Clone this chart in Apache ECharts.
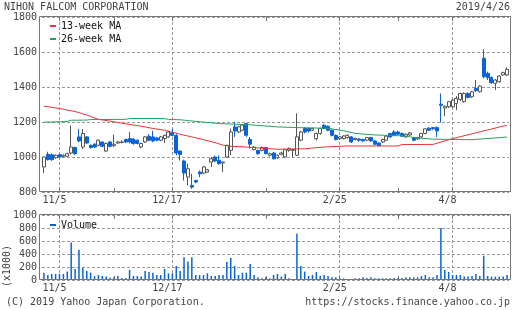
<!DOCTYPE html>
<html>
<head>
<meta charset="utf-8">
<script src="https://cdn.jsdelivr.net/npm/echarts@6/dist/echarts.min.js"></script>
<style>
  html, body { margin: 0; padding: 0; background: #fff; }
  #main { width: 512px; height: 310px; }
</style>
</head>
<body>
<div id="main"></div>
<script>
// trading days, 2018/10/30 - 2019/4/26
const dates = [
  "10/30", "10/31",
  "11/1", "11/2", "11/5", "11/6", "11/7", "11/8", "11/9", "11/12", "11/13", "11/14", "11/15", "11/16",
  "11/19", "11/20", "11/21", "11/22", "11/26", "11/27", "11/28", "11/29", "11/30",
  "12/3", "12/4", "12/5", "12/6", "12/7", "12/10", "12/11", "12/12", "12/13", "12/14", "12/17", "12/18",
  "12/19", "12/20", "12/21", "12/25", "12/26", "12/27", "12/28",
  "1/4", "1/7", "1/8", "1/9", "1/10", "1/11", "1/15", "1/16", "1/17", "1/18", "1/21", "1/22", "1/23",
  "1/24", "1/25", "1/28", "1/29", "1/30", "1/31",
  "2/1", "2/4", "2/5", "2/6", "2/7", "2/8", "2/12", "2/13", "2/14", "2/15", "2/18", "2/19", "2/20",
  "2/21", "2/22", "2/25", "2/26", "2/27", "2/28",
  "3/1", "3/4", "3/5", "3/6", "3/7", "3/8", "3/11", "3/12", "3/13", "3/14", "3/15", "3/18", "3/19",
  "3/20", "3/22", "3/25", "3/26", "3/27", "3/28", "3/29",
  "4/1", "4/2", "4/3", "4/4", "4/5", "4/8", "4/9", "4/10", "4/11", "4/12", "4/15", "4/16", "4/17",
  "4/18", "4/19", "4/22", "4/23", "4/24", "4/25", "4/26"
];
const labelDates = ["11/5", "12/17", "2/25", "4/8"];
const tickDates = ["11/5", "11/26", "12/17", "1/28", "2/25", "3/18", "4/8"];

const open = [
  943, 1015, 1013, 996, 1013, 1004, 1004, 1023, 1054, 1115,
  1057, 1115, 1067, 1073, 1067, 1086, 1034, 1086, 1065, 1080,
  1083, 1100, 1105, 1103, 1096, 1057, 1086, 1119, 1115, 1109,
  1096, 1105, 1115, 1138, 1124, 1034, 977, 885, 837, 866,
  914, 908, 914, 971, 1000, 981, 966, 1000, 1038, 1172,
  1143, 1153, 1191, 1100, 1042, 1038, 1038, 1054, 1010, 1023,
  996, 1015, 1000, 1038, 1038, 1010, 1096, 1163, 1163, 1153,
  1105, 1134, 1182, 1176, 1153, 1124, 1105, 1105, 1111, 1115,
  1100, 1103, 1100, 1096, 1111, 1092, 1080, 1086, 1096, 1134,
  1143, 1143, 1134, 1115, 1126, 1111, 1103, 1115, 1134, 1165,
  1168, 1168, 1302, 1280, 1287, 1287, 1306, 1329, 1316, 1363,
  1344, 1392, 1373, 1564, 1478, 1455, 1421, 1430, 1469, 1469
];
const close = [
  1000, 985, 985, 1010, 1000, 1010, 1019, 1057, 1019, 1092,
  1134, 1080, 1054, 1057, 1096, 1061, 1077, 1061, 1073, 1086,
  1086, 1086, 1086, 1077, 1077, 1077, 1115, 1096, 1092, 1096,
  1115, 1124, 1143, 1124, 1023, 1015, 908, 933, 828, 857,
  904, 943, 927, 990, 977, 962, 971, 1067, 1143, 1149,
  1172, 1182, 1124, 1073, 1057, 1019, 1054, 1019, 1019, 990,
  1010, 1023, 1042, 1048, 1042, 1115, 1143, 1143, 1149, 1163,
  1134, 1163, 1163, 1153, 1124, 1100, 1115, 1120, 1124, 1086,
  1107, 1096, 1092, 1111, 1092, 1073, 1065, 1100, 1119, 1115,
  1124, 1130, 1119, 1130, 1138, 1096, 1111, 1134, 1161, 1153,
  1161, 1149, 1295, 1290, 1316, 1325, 1335, 1363, 1363, 1340,
  1373, 1379, 1405, 1459, 1455, 1425, 1440, 1463, 1482, 1501
];
const low = [
  908, 980, 978, 990, 995, 998, 1000, 1015, 1012, 1085,
  1045, 1075, 1048, 1052, 1062, 1056, 1030, 1055, 1058, 1075,
  1078, 1080, 1077, 1070, 1072, 1050, 1080, 1090, 1085, 1090,
  1090, 1080, 1110, 1118, 1010, 981, 866, 837, 818, 850,
  885, 905, 910, 943, 970, 955, 914, 996, 1010, 1115,
  1138, 1148, 1115, 1048, 1038, 1013, 1032, 1015, 1004, 985,
  990, 1010, 996, 1030, 1000, 1005, 1090, 1135, 1140, 1148,
  1095, 1128, 1158, 1148, 1118, 1095, 1100, 1100, 1105, 1080,
  1095, 1088, 1088, 1090, 1086, 1068, 1060, 1080, 1092, 1110,
  1118, 1125, 1115, 1110, 1120, 1090, 1098, 1110, 1130, 1148,
  1155, 1115, 1197, 1233, 1280, 1282, 1268, 1320, 1310, 1335,
  1338, 1372, 1368, 1450, 1440, 1418, 1383, 1425, 1465, 1463
];
const high = [
  1003, 1030, 1020, 1015, 1018, 1015, 1025, 1180, 1060, 1160,
  1160, 1120, 1072, 1078, 1100, 1090, 1083, 1092, 1128, 1090,
  1095, 1105, 1143, 1108, 1100, 1082, 1120, 1130, 1150, 1115,
  1120, 1128, 1150, 1160, 1130, 1040, 985, 962, 904, 870,
  923, 948, 932, 1000, 1008, 1010, 975, 1070, 1163, 1201,
  1178, 1188, 1195, 1115, 1062, 1042, 1060, 1058, 1025, 1028,
  1015, 1030, 1048, 1055, 1048, 1250, 1150, 1170, 1168, 1168,
  1140, 1168, 1186, 1180, 1158, 1128, 1120, 1125, 1130, 1120,
  1110, 1108, 1105, 1115, 1115, 1096, 1084, 1104, 1124, 1138,
  1153, 1150, 1140, 1135, 1142, 1115, 1115, 1138, 1165, 1170,
  1172, 1175, 1363, 1295, 1320, 1330, 1348, 1368, 1370, 1370,
  1378, 1440, 1410, 1616, 1488, 1460, 1445, 1468, 1488, 1512
];
// volume, x1000 shares
const volume = [
  113, 77, 93, 93, 93, 93, 129, 577, 170, 464,
  190, 139, 113, 62, 77, 62, 52, 36, 41, 62,
  31, 31, 155, 62, 62, 52, 139, 124, 113, 77,
  77, 170, 103, 103, 216, 139, 350, 283, 350, 77,
  77, 77, 103, 62, 62, 77, 77, 278, 340, 216,
  77, 113, 113, 247, 77, 41, 26, 41, 26, 78,
  93, 52, 93, 26, 16, 713, 217, 129, 62, 78,
  124, 62, 78, 62, 41, 41, 26, 26, 16, 16,
  26, 26, 41, 31, 41, 26, 26, 26, 26, 26,
  31, 31, 31, 41, 41, 41, 41, 62, 78, 41,
  41, 78, 800, 155, 124, 78, 78, 78, 52, 52,
  62, 93, 62, 372, 62, 52, 52, 52, 52, 78
];
// moving averages: [day index, value]
const ma13 = [
  [0, 1291], [4, 1277], [8, 1260], [11, 1240], [14, 1215], [17, 1205], [20, 1193], [25, 1176],
  [28, 1163], [31, 1153], [35, 1130], [38, 1115], [41, 1099], [44, 1082], [46, 1068], [48, 1061],
  [52, 1057], [60, 1044], [67, 1047], [72, 1057], [78, 1063], [91, 1063], [92, 1071], [100, 1072],
  [105, 1105], [119, 1182]
];
const ma26 = [
  [0, 1199], [6, 1203], [7, 1210], [11, 1211], [12, 1214], [21, 1215], [22, 1220], [31, 1220],
  [32, 1214], [35, 1213], [37, 1208], [45, 1191], [53, 1184], [60, 1172], [65, 1168], [73, 1164],
  [77, 1150], [80, 1135], [85, 1126], [93, 1120], [95, 1111], [100, 1102], [110, 1099], [119, 1114]
];

const FONT = "DejaVu Sans Mono";
const BLUE = "#0a64d8";
const AXIS = "#777";
const TEXT = "#444";

const ohlc = dates.map((d, i) => [open[i], close[i], low[i], high[i]]);
const isLabel = (i, v) => labelDates.includes(v);
const isTick = (i, v) => tickDates.includes(v);

const main = { left: 42, top: 17, width: 467, height: 175 };
const vol = { left: 42, top: 215, width: 467, height: 65 };

const dash = { color: "#999", type: [3, 2], width: 1 };
const txt = { fontSize: 10, fontFamily: FONT, color: TEXT };

function xAxisFor(gridIndex, position) {
  const bottom = position === "bottom";
  return {
    type: "category",
    gridIndex: gridIndex,
    position: position,
    data: dates,
    boundaryGap: true,
    axisLine: { show: false },
    axisTick: {
      show: true, inside: true, length: 4, alignWithLabel: true,
      interval: isTick, lineStyle: { color: AXIS }
    },
    axisLabel: {
      show: bottom, interval: isLabel, margin: 3, padding: [0, 10, 0, 0], ...txt
    },
    splitLine: {
      show: bottom, interval: isLabel, alignWithLabel: true, lineStyle: dash
    }
  };
}

function frame(g) {
  return {
    type: "rect", z: 100, silent: true,
    shape: { x: g.left - 2.5, y: g.top - 0.5, width: g.width + 4, height: g.height },
    style: { fill: "none", stroke: AXIS, lineWidth: 1 }
  };
}

var myChart = echarts.init(document.getElementById("main"));
var option = {
  animation: false,
  backgroundColor: "#fff",
  title: [
    { text: "NIHON FALCOM CORPORATION", left: 4, top: 2, padding: 0, textStyle: { ...txt, fontWeight: "normal" } },
    { text: "2019/4/26", right: 2, top: 2, padding: 0, textStyle: { ...txt, fontWeight: "normal" } },
    { text: "(C) 2019 Yahoo Japan Corporation.", left: 6, top: 297, padding: 0, textStyle: { ...txt, fontWeight: "normal" } },
    { text: "https://stocks.finance.yahoo.co.jp", right: 2, top: 297, padding: 0, textStyle: { ...txt, fontWeight: "normal" } }
  ],
  legend: [
    {
      data: ["13-week MA", "26-week MA"], orient: "vertical", left: 50, top: 20, padding: 0,
      itemGap: 1, itemWidth: 6, itemHeight: 2, icon: "rect", selectedMode: false,
      textStyle: { fontSize: 10, fontFamily: FONT, color: "#111", lineHeight: 12 }
    },
    {
      data: ["Volume"], left: 50, top: 219, padding: 0,
      itemWidth: 6, itemHeight: 2, icon: "rect", selectedMode: false,
      textStyle: { fontSize: 10, fontFamily: FONT, color: "#111", lineHeight: 12 }
    }
  ],
  grid: [main, vol],
  xAxis: [
    xAxisFor(0, "bottom"),
    xAxisFor(0, "top"),
    xAxisFor(1, "bottom"),
    xAxisFor(1, "top")
  ],
  yAxis: [
    {
      type: "value", gridIndex: 0, min: 800, max: 1800, interval: 200,
      axisLine: { show: false }, axisTick: { show: false },
      axisLabel: { margin: 5, formatter: (v) => String(v), ...txt }, splitLine: { lineStyle: dash }
    },
    {
      type: "value", gridIndex: 1, min: 0, max: 1000, interval: 200,
      axisLine: { show: false }, axisTick: { show: false },
      axisLabel: { margin: 5, formatter: (v) => String(v), ...txt }, splitLine: { lineStyle: dash }
    }
  ],
  graphic: [
    frame(main),
    frame(vol),
    {
      type: "text", x: 7, y: 266, rotation: Math.PI / 2, silent: true,
      style: {
        text: "(x1000)", font: "10px '" + FONT + "'", fill: TEXT,
        align: "center", verticalAlign: "middle",
        textAlign: "center", textVerticalAlign: "middle"
      }
    }
  ],
  series: [
    {
      name: "price", type: "candlestick", xAxisIndex: 0, yAxisIndex: 0,
      data: ohlc, barWidth: 3.5,
      itemStyle: { color: "#fff", color0: BLUE, borderColor: "#555", borderColor0: BLUE, borderWidth: 1 }
    },
    {
      name: "13-week MA", type: "line", xAxisIndex: 0, yAxisIndex: 0,
      data: ma13, symbol: "none", color: "#e3363b", lineStyle: { width: 1 }
    },
    {
      name: "26-week MA", type: "line", xAxisIndex: 0, yAxisIndex: 0,
      data: ma26, symbol: "none", color: "#1fa463", lineStyle: { width: 1 }
    },
    {
      name: "Volume", type: "bar", xAxisIndex: 2, yAxisIndex: 1,
      data: volume, barWidth: 1.5, color: BLUE
    }
  ]
};

option && myChart.setOption(option);
</script>
</body>
</html>
